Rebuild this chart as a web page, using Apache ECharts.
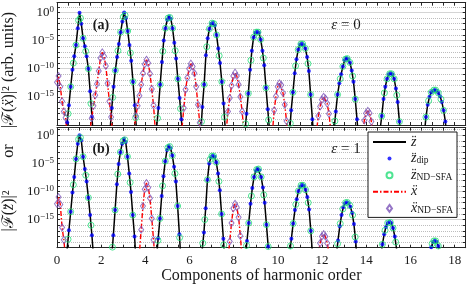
<!DOCTYPE html>
<html><head><meta charset="utf-8">
<script src="https://cdn.jsdelivr.net/npm/echarts@6/dist/echarts.min.js"></script>
<style>html,body{margin:0;padding:0;background:#fff}#c{width:469px;height:285px}</style>
</head><body><div id="c"></div>
<script>
// values: [harmonic order, log10 |F|^2]
const zdipA = [
[0.38,-24],[0.46,-19.5],[0.54,-16.5],[0.62,-13.2],[0.70,-10.2],[0.78,-7.8],[0.86,-5.8],[0.94,-2.8],[1.02,-0.05],[1.10,-2.0],[1.18,-4.6],[1.26,-6.0],[1.34,-7.8],[1.42,-10.0],[1.50,-14.0],[1.58,-18.5],[1.66,-23],
[2.40,-21],[2.48,-17],[2.56,-13.2],[2.64,-10.3],[2.72,-7.9],[2.80,-5.6],[2.88,-3.5],[2.96,-1.6],[3.04,0],[3.12,-1.0],[3.20,-3.3],[3.28,-5.8],[3.36,-8.6],[3.44,-12.3],[3.52,-16.5],[3.60,-21],
[4.43,-24],[4.51,-20.5],[4.59,-17],[4.67,-12.8],[4.75,-8.8],[4.83,-5.0],[4.91,-2.8],[4.99,-1.3],[5.07,-0.7],[5.15,-1.1],[5.23,-2.8],[5.31,-5.4],[5.39,-8.2],[5.47,-11.8],[5.55,-15.2],[5.63,-19],[5.71,-23],
[6.50,-22],[6.58,-16.8],[6.66,-12.8],[6.74,-7.6],[6.82,-4.6],[6.90,-2.9],[6.98,-2.0],[7.06,-1.8],[7.14,-2.3],[7.22,-4.0],[7.30,-6.4],[7.38,-9.0],[7.46,-12.3],[7.54,-16.2],[7.62,-21],
[8.50,-21.5],[8.58,-18],[8.66,-14.4],[8.74,-10.2],[8.82,-6.8],[8.90,-4.4],[8.98,-3.6],[9.06,-3.4],[9.14,-3.6],[9.22,-4.8],[9.30,-6.8],[9.38,-9.4],[9.46,-13.4],[9.54,-17.2],[9.62,-21],
[10.52,-22],[10.60,-17.4],[10.68,-14.2],[10.76,-10.8],[10.84,-8.3],[10.92,-6.6],[11.00,-5.7],[11.08,-5.5],[11.16,-5.8],[11.24,-6.4],[11.32,-7.9],[11.40,-10.4],[11.48,-14.6],[11.56,-19],[11.64,-23],
[12.54,-21],[12.62,-17.6],[12.70,-14.6],[12.78,-12.6],[12.86,-11],[12.94,-9.6],[13.02,-8.5],[13.10,-8.1],[13.18,-8.3],[13.26,-8.9],[13.34,-10.3],[13.42,-12.3],[13.50,-15.4],[13.58,-19],[13.66,-23],
[14.62,-21],[14.70,-18.4],[14.78,-15.4],[14.86,-13.2],[14.94,-11.8],[15.02,-11.0],[15.10,-10.8],[15.18,-11.0],[15.26,-11.8],[15.34,-13.5],[15.42,-15.9],[15.50,-19.4],[15.58,-23],
[16.62,-22],[16.70,-18.6],[16.78,-16.4],[16.86,-15.0],[16.94,-14.2],[17.02,-13.9],[17.10,-13.8],[17.18,-13.9],[17.26,-14.3],[17.34,-14.9],[17.42,-15.9],[17.50,-17.4],[17.58,-19.4],[17.66,-23]
];
const zsfaA = [
[0.50,-18],[0.62,-13.2],[0.74,-9.0],[0.86,-5.8],[0.98,-1.4],[1.06,-1.0],[1.18,-4.6],[1.30,-6.9],[1.42,-10.0],[1.54,-16.2],
[2.52,-15.1],[2.64,-10.3],[2.76,-6.8],[2.88,-3.5],[3.00,-0.8],[3.08,-0.5],[3.20,-3.3],[3.32,-7.2],[3.44,-12.3],[3.56,-18.7],
[4.55,-18.8],[4.67,-12.8],[4.79,-6.9],[4.91,-2.8],[5.03,-1.0],[5.11,-0.9],[5.23,-2.8],[5.35,-6.8],[5.47,-11.8],[5.59,-17.1],
[6.54,-19.4],[6.66,-12.8],[6.78,-6.1],[6.90,-2.9],[7.02,-1.9],[7.10,-2.0],[7.22,-4.0],[7.34,-7.7],[7.46,-12.3],[7.58,-18.6],
[8.54,-19.8],[8.66,-14.4],[8.78,-8.5],[8.90,-4.4],[9.02,-3.5],[9.10,-3.5],[9.22,-4.8],[9.34,-8.1],[9.46,-13.4],[9.58,-19.1],
[10.56,-19.7],[10.68,-14.2],[10.80,-9.5],[10.92,-6.6],[11.04,-5.6],[11.12,-5.6],[11.24,-6.4],[11.36,-9.1],[11.48,-14.6],
[12.58,-19.3],[12.70,-14.6],[12.82,-11.8],[12.94,-9.6],[13.06,-8.3],[13.14,-8.2],[13.26,-8.9],[13.38,-11.3],[13.50,-15.4],
[14.70,-18.4],[14.82,-14.3],[14.94,-11.8],[15.06,-10.9],[15.14,-10.9],[15.26,-11.8],[15.38,-14.7],[15.50,-19.4],
[16.70,-18.6],[16.82,-15.7],[16.94,-14.2],[17.06,-13.8],[17.14,-13.8],[17.26,-14.3],[17.38,-15.4],[17.50,-17.4]
];
const xA = [
[0.00,-12.4],[0.07,-11.3],[0.15,-13.2],[0.23,-15.8],[0.31,-17.6],[0.39,-18.7],[0.47,-22],
[1.49,-21],[1.57,-18.8],[1.65,-16.6],[1.73,-14.7],[1.81,-12.7],[1.89,-10.4],[1.97,-8.1],[2.05,-7.1],[2.13,-7.8],[2.21,-9.5],[2.29,-12.6],[2.37,-15.8],[2.45,-18.6],[2.53,-22],
[3.49,-21],[3.57,-18.4],[3.65,-16.6],[3.73,-14.8],[3.81,-12.8],[3.89,-10.8],[3.97,-9.2],[4.05,-8.4],[4.13,-9.0],[4.21,-10.9],[4.29,-13.6],[4.37,-16.5],[4.45,-21],
[5.58,-23],[5.66,-20.5],[5.74,-17.0],[5.82,-13.7],[5.90,-11.6],[5.98,-10.0],[6.06,-9.1],[6.14,-9.6],[6.22,-10.8],[6.30,-13.2],[6.38,-16.4],[6.46,-19.6],[6.54,-23],
[7.66,-21],[7.74,-17.6],[7.82,-15.2],[7.90,-13.0],[7.98,-11.3],[8.06,-10.7],[8.14,-11.3],[8.22,-12.8],[8.30,-15.0],[8.38,-17.6],[8.46,-21],
[9.75,-21.5],[9.83,-17.4],[9.91,-14.9],[9.99,-13.2],[10.07,-12.6],[10.15,-12.9],[10.23,-14.3],[10.31,-16.4],[10.39,-19.3],[10.47,-23],
[11.75,-21],[11.83,-18.4],[11.91,-16.7],[11.99,-15.5],[12.07,-15.0],[12.15,-15.3],[12.23,-16.2],[12.31,-18.0],[12.39,-20.8],[12.47,-24],
[13.83,-21.5],[13.91,-19.2],[13.99,-17.9],[14.07,-17.5],[14.15,-17.9],[14.23,-19.4],[14.31,-22]
];
const zdipB = [
[0.38,-24],[0.46,-20.2],[0.54,-16.9],[0.62,-13.6],[0.70,-10.2],[0.78,-7.4],[0.86,-4.2],[0.94,-1.5],[1.02,0],[1.10,-0.9],[1.18,-3.8],[1.26,-6.0],[1.34,-8.2],[1.42,-11.1],[1.50,-14.2],[1.58,-17.8],[1.66,-22],
[2.47,-22],[2.55,-17.8],[2.63,-13.3],[2.71,-8.7],[2.79,-5.1],[2.87,-3.0],[2.95,-1.5],[3.03,-0.6],[3.11,-1.2],[3.19,-3.8],[3.27,-6.8],[3.35,-10.1],[3.43,-14.2],[3.51,-18.0],[3.59,-23],
[4.50,-22],[4.58,-18.3],[4.66,-14.8],[4.74,-10.8],[4.82,-7.3],[4.90,-4.6],[4.98,-2.6],[5.06,-1.9],[5.14,-2.3],[5.22,-3.6],[5.30,-5.6],[5.38,-8.2],[5.46,-12.6],[5.54,-17.6],[5.62,-23],
[6.49,-23],[6.57,-20.5],[6.65,-17.3],[6.73,-13.0],[6.81,-7.9],[6.89,-5.0],[6.97,-3.9],[7.05,-3.6],[7.13,-3.8],[7.21,-4.8],[7.29,-6.8],[7.37,-9.8],[7.45,-14.0],[7.53,-18.4],[7.61,-23],
[8.52,-22],[8.60,-18.8],[8.68,-15.6],[8.76,-12.2],[8.84,-9.4],[8.92,-7.4],[9.00,-6.3],[9.08,-5.9],[9.16,-6.2],[9.24,-7.4],[9.32,-9.3],[9.40,-12.0],[9.48,-15.9],[9.56,-19.8],[9.64,-23],
[10.53,-21],[10.61,-18.4],[10.69,-15.7],[10.77,-13.3],[10.85,-11.4],[10.93,-9.9],[11.01,-9.1],[11.09,-8.8],[11.17,-9.0],[11.25,-9.7],[11.33,-11.0],[11.41,-13.2],[11.49,-17.0],[11.57,-21.5],
[12.64,-21.5],[12.72,-18.7],[12.80,-16.2],[12.88,-14.2],[12.96,-12.8],[13.04,-12.1],[13.12,-11.9],[13.20,-12.1],[13.28,-12.7],[13.36,-13.8],[13.44,-15.8],[13.52,-18.9],[13.60,-23],
[14.65,-22],[14.73,-19.4],[14.81,-17.6],[14.89,-16.3],[14.97,-15.6],[15.05,-15.4],[15.13,-15.6],[15.21,-16.5],[15.29,-18.0],[15.37,-20.2],[15.45,-23],
[16.86,-21.5],[16.94,-19.9],[17.02,-19.0],[17.10,-18.75],[17.18,-18.95],[17.26,-19.7],[17.34,-21.5]
];
const zsfaB = [
[0.50,-18.5],[0.62,-13.6],[0.74,-8.8],[0.86,-4.2],[0.98,-0.7],[1.06,-0.4],[1.18,-3.8],[1.30,-7.1],[1.42,-11.1],[1.54,-16.0],
[2.51,-19.9],[2.63,-13.3],[2.75,-6.9],[2.87,-3.0],[2.99,-1.0],[3.07,-0.8],[3.19,-3.8],[3.31,-8.4],[3.43,-14.2],
[4.57,-18.7],[4.66,-14.8],[4.78,-9.0],[4.90,-4.6],[5.02,-2.2],[5.10,-2.0],[5.22,-3.6],[5.34,-6.8],[5.46,-12.6],[5.55,-18.2],
[6.60,-19.2],[6.69,-15.0],[6.81,-7.9],[6.93,-4.3],[7.01,-3.7],[7.09,-3.7],[7.21,-4.8],[7.33,-8.2],[7.45,-14.0],[7.55,-19.5],
[8.58,-19.6],[8.68,-15.6],[8.80,-10.8],[8.92,-7.4],[9.04,-6.1],[9.12,-6.0],[9.24,-7.4],[9.36,-10.6],[9.48,-15.9],[9.56,-19.8],
[10.57,-19.7],[10.69,-15.7],[10.81,-12.3],[10.93,-9.9],[11.05,-8.9],[11.13,-8.9],[11.25,-9.7],[11.37,-12.0],[11.49,-17.0],
[12.70,-19.3],[12.82,-15.7],[12.94,-13.1],[13.06,-12.0],[13.14,-11.95],[13.26,-12.5],[13.38,-14.2],[13.50,-18.1],
[14.73,-19.4],[14.85,-16.9],[14.97,-15.6],[15.09,-15.5],[15.21,-16.5],[15.33,-19.0],
[16.98,-19.3],[17.06,-18.8],[17.14,-18.8],[17.26,-19.7]
];
const xB = [
[0.00,-12.2],[0.07,-11.0],[0.15,-12.3],[0.23,-16.4],[0.31,-18.6],[0.39,-22],
[3.73,-21],[3.81,-16.8],[3.89,-12.6],[3.97,-9.6],[4.05,-8.5],[4.13,-9.3],[4.21,-11.2],[4.29,-14.8],[4.37,-18.6],[4.45,-23],
[7.74,-22],[7.82,-18.9],[7.90,-15.6],[7.98,-13.0],[8.06,-12.2],[8.14,-12.8],[8.22,-14.6],[8.30,-17.9],[8.38,-22],
[11.83,-21],[11.91,-19.2],[11.99,-18.0],[12.07,-17.6],[12.15,-18.0],[12.23,-19.2],[12.31,-21]
];
const xTickLabels = [0,2,4,6,8,10,12,14,16,18];
const yTickExps = [0,-5,-10,-15];
const legendNames = ['z','zdip','zsfa','x','xsfa'];
const legendLabels = {
  z:'{v|z\u0308}', zdip:'{v|z\u0308}{s|dip}', zsfa:'{v|z\u0308}{s|ND\u2212SFA}',
  x:'{v|x\u0308}', xsfa:'{v|x\u0308}{s|ND\u2212SFA}'
};

const SERIF = '"Liberation Serif","DejaVu Serif",serif';
const INK = '#1a1a1a';
const FRAME = '#262626';
const panels = [
  {top:2.7, height:122.3, max:1.73, zdip:zdipA, zsfa:zsfaA, xr:xA},
  {top:127.7, height:120, max:1.35, zdip:zdipB, zsfa:zsfaB, xr:xB}
];

const grids = [], xAxes = [], yAxes = [], series = [];
panels.forEach((p, i) => {
  grids.push({left:57, right:3.3, top:p.top, height:p.height, outerBoundsMode:'none', containLabel:false});
  const baseX = {type:'value', gridIndex:i, min:0, max:18.5, interval:0.5,
    axisLine:{show:true, onZero:false, lineStyle:{color:FRAME, width:1}},
    axisTick:{show:true, inside:true, length:3, lineStyle:{color:FRAME, width:1}},
    splitLine:{show:false}};
  xAxes.push(Object.assign({}, baseX, {position:'bottom',
    axisLabel:{show:i===1, margin:6, color:INK, fontFamily:SERIF, fontSize:13,
      formatter: v => xTickLabels.indexOf(v) >= 0 ? String(v) : ''},
    name: i===1 ? 'Components of harmonic order' : '', nameLocation:'middle', nameGap:20,
    nameTextStyle:{color:INK, fontFamily:SERIF, fontSize:16}}));
  xAxes.push(Object.assign({}, baseX, {position:'top', axisLabel:{show:false}}));
  const baseY = {type:'value', gridIndex:i, min:-20, max:p.max};
  yAxes.push(Object.assign({}, baseY, {position:'left', interval:1,
    axisLine:{show:true, onZero:false, lineStyle:{color:FRAME, width:1}},
    axisTick:{show:true, inside:true, length:3, lineStyle:{color:FRAME}},
    splitLine:{show:true, lineStyle:{type:'dotted', color:'#bdbdbd', width:1}},
    axisLabel:{show:true, margin:3, color:INK,
      formatter: v => yTickExps.indexOf(v) >= 0 ? '{b|10}{s|' + (v === 0 ? '0' : '\u2212' + (-v)) + '}' : '',
      rich:{b:{fontFamily:SERIF, fontSize:13, lineHeight:15, color:INK},
            s:{fontFamily:SERIF, fontSize:9, lineHeight:8, verticalAlign:'top', color:INK}}}}));
  yAxes.push(Object.assign({}, baseY, {position:'right', interval:5,
    axisLine:{show:true, onZero:false, lineStyle:{color:FRAME, width:1}},
    axisTick:{show:false}, axisLabel:{show:false},
    splitLine:{show:true, lineStyle:{type:'solid', color:'#d4d4d4', width:1}}}));
  yAxes.push(Object.assign({}, baseY, {position:'right', interval:1,
    axisLine:{show:false, onZero:false},
    axisTick:{show:true, inside:true, length:3, lineStyle:{color:FRAME}},
    axisLabel:{show:false}, splitLine:{show:false}}));
  const xi = 2*i, yi = 3*i;
  series.push(
    {name:'z', type:'line', xAxisIndex:xi, yAxisIndex:yi, data:p.zdip, symbol:'none', clip:true,
      lineStyle:{color:'#000', width:1.5}, itemStyle:{color:'#000'}, z:2},
    {name:'x', type:'line', xAxisIndex:xi, yAxisIndex:yi, data:p.xr, symbol:'none', clip:true,
      lineStyle:{color:'#ff0000', width:1.4, type:[5,2,1.5,2]}, itemStyle:{color:'#ff0000'}, z:2},
    {name:'zdip', type:'scatter', xAxisIndex:xi, yAxisIndex:yi, data:p.zdip, symbol:'circle', symbolSize:4, clip:true,
      itemStyle:{color:'#0000ff'}, z:3},
    {name:'zsfa', type:'scatter', xAxisIndex:xi, yAxisIndex:yi, data:p.zsfa, symbol:'circle', symbolSize:6, clip:true,
      itemStyle:{color:'rgba(255,255,255,0)', borderColor:'#22dd77', borderWidth:1}, z:4},
    {name:'xsfa', type:'scatter', xAxisIndex:xi, yAxisIndex:yi, data:p.xr, symbol:'diamond', symbolSize:[5,7], clip:true,
      itemStyle:{color:'rgba(255,255,255,0)', borderColor:'#7b52b8', borderWidth:1}, z:4}
  );
});

function txt(x, y, text, opts) {
  return Object.assign({type:'text', x:x, y:y, silent:true, z:100,
    style:Object.assign({text:text, fill:INK, fontFamily:SERIF, fontSize:15,
      align:'center', verticalAlign:'middle', textAlign:'center', textVerticalAlign:'middle'}, opts.style || {})},
    opts.el || {});
}
const italicRich = {i:{fontStyle:'italic', fontFamily:SERIF, fontSize:16, fill:INK}};
const graphics = [
  txt(101, 25.3, '(a)', {style:{fontWeight:'bold', fontSize:14}}),
  txt(101, 149.3, '(b)', {style:{fontWeight:'bold', fontSize:14}}),
  txt(346, 25, '{i|\u03b5} = 0', {style:{fontSize:15, rich:{i:{fontStyle:'italic', fontFamily:SERIF, fontSize:15, fill:INK}}}}),
  txt(346, 149, '{i|\u03b5} = 1', {style:{fontSize:15, rich:{i:{fontStyle:'italic', fontFamily:SERIF, fontSize:15, fill:INK}}}}),
  txt(9, 70, '|\u2131({i|x\u0308})|\u00b2 (arb. units)', {style:{fontSize:16, rich:italicRich}, el:{rotation:Math.PI/2}}),
  txt(9, 151, 'or', {style:{fontSize:16}, el:{rotation:Math.PI/2}}),
  txt(9, 211, '|\u2131({i|z\u0308})|\u00b2', {style:{fontSize:16, rich:italicRich}, el:{rotation:Math.PI/2}})
];

// legend icons: the box is 33x7; the first two zero-length sub-paths pin that extent so the mark keeps its shape
const ICON_BOX = 'M0,3.5L0,3.5M33,3.5L33,3.5';
const legendIcons = {
  zdip: 'path://' + ICON_BOX + 'M14.5,3.5a2,2 0 1,0 4,0a2,2 0 1,0 -4,0Z',
  zsfa: 'path://' + ICON_BOX + 'M13.5,3.5a3,3 0 1,0 6,0a3,3 0 1,0 -6,0Z',
  xsfa: 'path://' + ICON_BOX + 'M16.5,0L19,3.5L16.5,7L14,3.5Z'
};
const legendData = legendNames.map(n => (n === 'z' || n === 'x')
  ? {name:n, itemStyle:{opacity:0, borderWidth:0}}
  : {name:n, icon:legendIcons[n]});

const chart = echarts.init(document.getElementById('c'), null, {renderer:'canvas'});
chart.setOption({
  animation:false,
  backgroundColor:'#fff',
  grid:grids, xAxis:xAxes, yAxis:yAxes, series:series,
  legend:{
    data:legendData, orient:'vertical', left:368, top:132, itemWidth:33, itemHeight:7, itemGap:2.6,
    padding:[3,4,2,4], backgroundColor:'#fff', borderColor:INK, borderWidth:1, borderRadius:0,
    selectedMode:false, z:50,
    formatter: n => legendLabels[n],
    textStyle:{color:INK, fontFamily:SERIF, fontSize:14, lineHeight:14,
      rich:{v:{fontStyle:'italic', fontFamily:SERIF, fontSize:14, lineHeight:14, color:INK},
            s:{fontFamily:SERIF, fontSize:9.5, lineHeight:9, verticalAlign:'bottom', color:INK}}}
  },
  graphic:graphics
});
</script>
</body></html>
